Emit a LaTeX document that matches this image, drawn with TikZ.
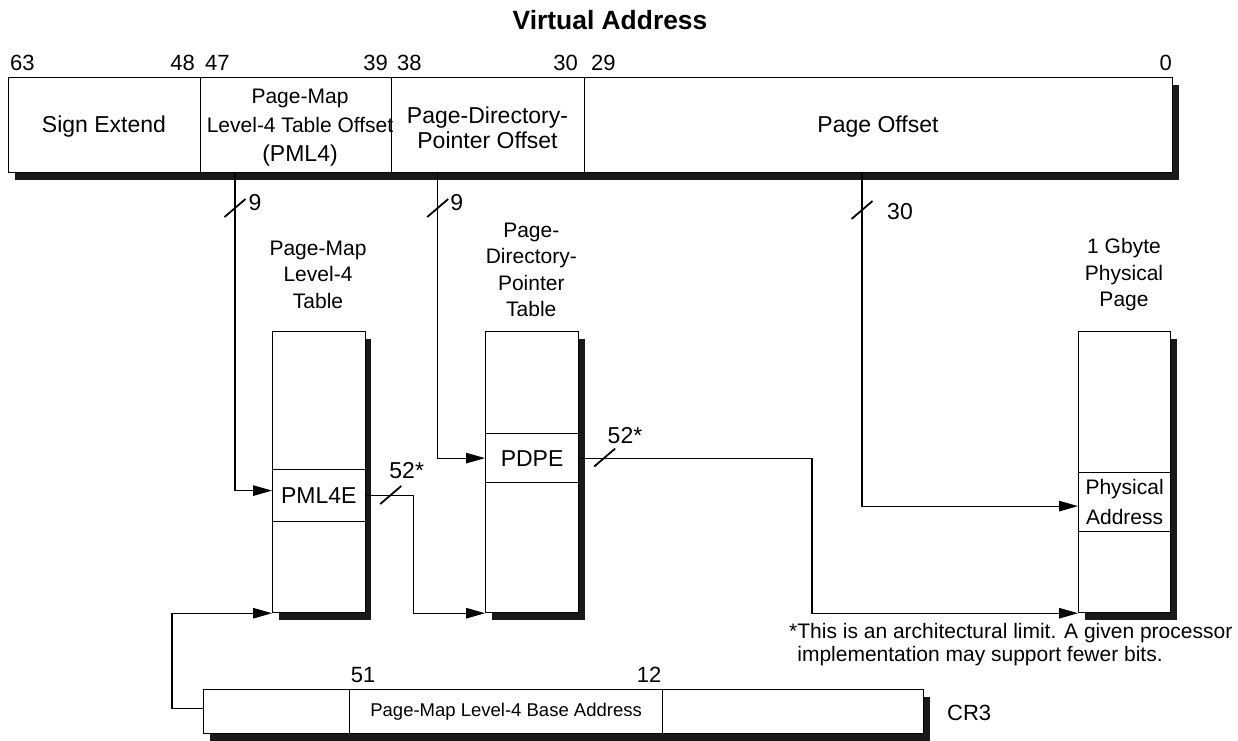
\documentclass[tikz,border=0pt]{standalone}
\usepackage{fontspec}
\setmainfont{Liberation Sans}
\usetikzlibrary{arrows.meta,shadows}
\begin{document}
\begin{tikzpicture}[x=1pt,y=-1pt,
  box/.style={draw=black, line width=1.2pt, fill=white, inner sep=0pt, anchor=north west, rectangle},
  shad/.style={drop shadow={shadow xshift=6pt,shadow yshift=-7pt,fill=black!90,opacity=1}},
  conn/.style={line width=1.2pt, -{Triangle[length=19pt,width=10.5pt]}},
  slash/.style={line width=1.8pt},
  big/.style={font=\fontsize{23}{27}\selectfont, inner sep=0pt, align=center},
  sml/.style={font=\fontsize{21}{26.5}\selectfont, inner sep=0pt, align=center},
  num/.style={font=\fontsize{22}{26}\selectfont, inner sep=0pt},
]
\useasboundingbox (0,0) rectangle (1238,740);

% title
\node[font=\bfseries\fontsize{26.4}{30}\selectfont, inner sep=0pt] (title) at (610,20) {Virtual Address};

% bit numbers
\node[num, anchor=west] (b63) at (10,63) {63};
\node[num, anchor=east] (b48) at (195,63) {48};
\node[num, anchor=west] (b47) at (205,63) {47};
\node[num, anchor=east] (b39) at (388,63) {39};
\node[num, anchor=west] (b38) at (397,63) {38};
\node[num, anchor=east] (b30) at (578,63) {30};
\node[num, anchor=west] (b29) at (591,63) {29};
\node[num, anchor=east] (b0) at (1172,63) {0};

% virtual address fields
\node[box, shad, minimum width=192pt, minimum height=95pt] (se) at (8,77) {};
\node[box, shad, minimum width=191pt, minimum height=95pt] (pm) at (200,77) {};
\node[box, shad, minimum width=193pt, minimum height=95pt] (pd) at (391,77) {};
\node[box, shad, minimum width=588pt, minimum height=95pt] (po) at (584,77) {};

\node[big] (tse) at (104,127) {Sign Extend};
\node[sml, font=\fontsize{21}{29}\selectfont] (tpm) at (300,128) {Page-Map\\Level-4 Table Offset\\{\fontsize{23}{29}\selectfont (PML4)}};
\node[big, font=\fontsize{23}{25}\selectfont] (tpd) at (487.5,128) {Page-Directory-\\Pointer Offset};
\node[big] (tpo) at (878,127) {Page Offset};

% tables
\node[box, shad, minimum width=92.5pt, minimum height=281pt] (pt) at (272,331) {};
\node[box, minimum width=92.5pt, minimum height=52pt, font=\fontsize{23}{27}\selectfont] (pml4e) at (272,469) {PML4E};
\node[box, shad, minimum width=93pt, minimum height=281pt] (pdt) at (485,331) {};
\node[box, minimum width=93pt, minimum height=49pt, font=\fontsize{23}{27}\selectfont] (pdpe) at (485,433) {PDPE};
\node[box, shad, minimum width=92pt, minimum height=281pt] (pp) at (1078,331) {};
\node[box, minimum width=92pt, minimum height=59pt, align=center, font=\fontsize{21}{30}\selectfont] (pa) at (1078,472) {Physical\\Address};

% table titles
\node[sml] (tpt) at (318,274.5) {Page-Map\\Level-4\\Table};
\node[sml] (tpdt) at (531.3,270) {Page-\\Directory-\\Pointer\\Table};
\node[sml] (tpp) at (1124,275) {1 Gbyte\\Physical\\Page};

% CR3
\node[box, shad, minimum width=146pt, minimum height=44pt] (cr3a) at (203,689) {};
\node[box, shad, minimum width=313pt, minimum height=44pt, font=\fontsize{18.5}{22}\selectfont] (cr3b) at (349,689) {Page-Map Level-4 Base Address};
\node[box, shad, minimum width=261pt, minimum height=44pt] (cr3c) at (662,689) {};
\node[num] (b51) at (363,675) {51};
\node[num] (b12) at (649,675) {12};
\node[num, anchor=west] (cr3) at (947,713) {CR3};

% footnote
\node[font=\fontsize{21}{23}\selectfont, inner sep=0pt, anchor=north west, align=left] (fn) at (789,623) {*This is an architectural limit. A given processor\\\phantom{*}implementation may support fewer bits.};

% connectors
\coordinate (v1) at (235,172);
\coordinate (v2) at (437.7,172);
\coordinate (v3) at (862,172);
\draw[conn] (v1) |- ([yshift=5pt]pml4e.west);
\draw[conn] (v2) |- (pdpe.west);
\draw[conn] (v3) |- ([yshift=-4pt]pa.west);
\draw[conn] (pml4e.east) -- ++(47.5,0) |- (pdt.south west);
\draw[conn] (pdpe.east) -- ++(232.7,0) |- (pp.south west);
\draw[conn] ([yshift=3pt]cr3a.west) -- ++(-31,0) |- (pt.south west);

% bus-width slashes
\coordinate (s1) at (235,208);
\coordinate (s2) at (437.7,208);
\coordinate (s3) at (862,210);
\coordinate (s4) at (390.7,495);
\coordinate (s5) at (604.7,457.5);
\foreach \s in {s1,s2,s3,s4,s5}
  \draw[slash] ([shift={(-10.5,9)}]\s) -- ([shift={(10.5,-9)}]\s);
\node[big] (w1) at (255,203) {9};
\node[big] (w2) at (456.7,203) {9};
\node[big] (w3) at (900,212) {30};
\node[big] (w4) at (406.7,471) {52*};
\node[big] (w5) at (625,436) {52*};
\end{tikzpicture}
\end{document}
